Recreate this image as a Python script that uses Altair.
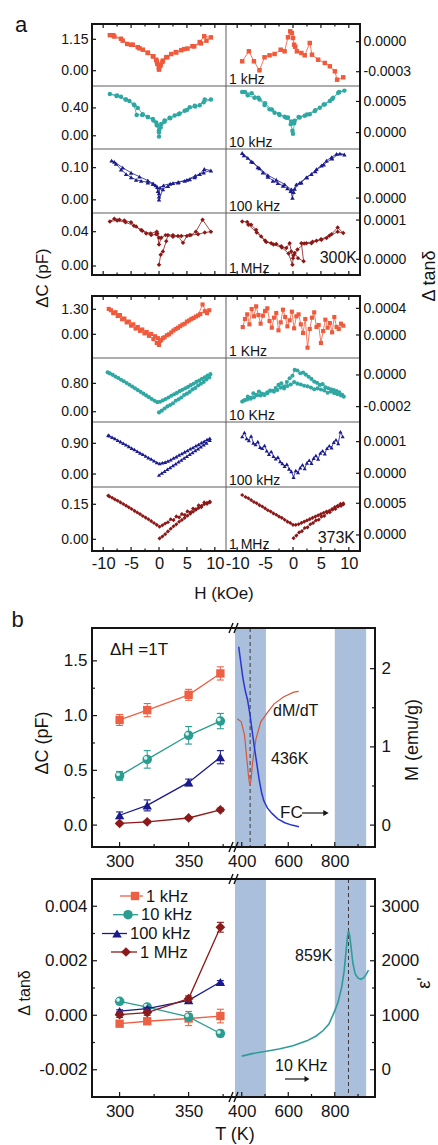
import altair as alt
import pandas as pd

# ---------------------------------------------------------------------------
# (a) field sweeps: change of capacitance (pF) and of tan(delta) vs H (kOe)
# ---------------------------------------------------------------------------
# 300 K ---------------------------------------------------------------------
h300_1k_c = [0, 0.3, 0.7, 1.3, 2.2, 3.1, 4.0, 5.1, 6.3, 7.3, 8.1, 9.3, 8.5, 7.5, 6.0, 4.5, 3.0, 1.5, 0.6, 0.2,
             0, -0.3, -0.5, -1.1, -2.0, -2.9, -3.8, -4.7, -5.7, -6.8, -8.2, -8.8, -8.0, -6.5, -5.0, -3.5, -2.0, -1.0, -0.4, 0]
dc300_1k = [0.04, 0.22, 0.37, 0.49, 0.61, 0.67, 0.75, 0.81, 0.89, 1.05, 1.26, 1.22, 1.10, 1.00, 0.90, 0.79, 0.68, 0.50, 0.32, 0.18,
            0.10, 0.25, 0.40, 0.53, 0.65, 0.77, 0.86, 0.95, 0.98, 1.17, 1.30, 1.30, 1.25, 1.10, 0.95, 0.82, 0.66, 0.52, 0.35, 0.12]
h300_1k_t = [-9.1, -7.9, -7.0, -6.0, -5.1, -4.2, -3.3, -2.2, -1.5, -0.9, -0.5, -0.2, 0, 0.2, 0.4, 0.7, 1.5, 2.1, 3.0, 3.4,
             4.5, 5.7, 6.6, 7.5, 7.9, 9.0]
tan300_1k = [-1.96, -0.96, -1.96, -2.86, -1.56, -1.36, -1.23, -0.80, -0.96, 0.44, 1.04, 0.87, 0.37, -0.30, -0.50, -0.96, -1.13, -1.36, -0.13, -1.30,
             -1.80, -2.13, -2.46, -2.96, -3.80, -3.56]  # x 1e-4

h300_10k_c = [0, 0.4, 1.0, 1.9, 2.8, 3.7, 4.6, 5.5, 6.4, 7.3, 8.2, 9.3, 8.0, 6.5, 5.0, 3.5, 2.0, 1.0, 0.3, 0,
              -0.3, -0.5, -1.1, -2.0, -2.9, -3.8, -4.4, -5.3, -5.9, -6.8, -7.6, -8.8, -7.5, -6.0, -4.5, -4.0, -3.0, -2.0, -1.0, -0.4, 0]
dc300_10k = [-0.01, 0.17, 0.22, 0.26, 0.29, 0.32, 0.36, 0.41, 0.43, 0.44, 0.52, 0.52, 0.48, 0.42, 0.37, 0.31, 0.25, 0.20, 0.12, 0.05,
             0.15, 0.19, 0.24, 0.27, 0.31, 0.40, 0.44, 0.50, 0.52, 0.56, 0.57, 0.60, 0.58, 0.52, 0.45, 0.30, 0.30, 0.27, 0.22, 0.15, 0.08]
h300_10k_t = [-9.1, -8.1, -6.9, -6.0, -5.1, -4.2, -3.3, -2.4, -1.5, -0.9, -0.4, -0.1, 0, 0.3, 1.2, 2.1, 3.0, 3.9, 4.8, 5.7,
              6.6, 7.2, 8.1, 9.2, 8.3, 7.0, 5.5, 4.0, 2.5, 1.0, 0.2, -0.3, -1.2, -2.5, -3.8, -5.0, -6.2, -7.4, -8.6]
tan300_10k = [6.53, 6.00, 5.58, 5.30, 4.42, 3.73, 3.20, 2.84, 2.53, 2.42, 1.36, 0.30, -0.20, 1.90, 2.42, 2.70, 2.94, 3.48, 4.00, 4.53,
              5.06, 5.58, 6.38, 6.74, 6.50, 5.40, 4.50, 3.60, 2.90, 2.50, 1.50, 1.80, 2.40, 3.00, 3.70, 4.70, 5.60, 6.30, 6.50]  # x 1e-4

h300_100k_c = [0, 0.7, 1.6, 2.5, 3.4, 4.6, 5.5, 6.4, 7.3, 8.1, 9.3, 8.0, 6.5, 5.0, 3.5, 2.0, 0.8, 0.2, 0, -0.2,
               -0.6, -1.1, -2.0, -3.2, -4.1, -5.0, -5.9, -6.8, -7.7, -8.5, -8.0, -6.5, -5.0, -3.5, -2.0, -1.0, -0.3, 0]
dc300_100k = [0.001, 0.033, 0.043, 0.052, 0.054, 0.059, 0.064, 0.070, 0.080, 0.096, 0.091, 0.085, 0.075, 0.062, 0.055, 0.050, 0.045, 0.038, 0.020, 0.027,
              0.045, 0.050, 0.054, 0.059, 0.062, 0.070, 0.080, 0.094, 0.112, 0.122, 0.118, 0.100, 0.084, 0.072, 0.060, 0.050, 0.040, 0.010]
h300_100k_t = [-9.1, -8.1, -7.2, -6.3, -5.4, -4.5, -3.6, -2.7, -1.8, -1.0, -0.4, -0.1, 0.1, 0.6, 1.5, 2.4, 3.3, 4.2, 5.1, 6.0,
               6.9, 7.8, 9.2, 8.4, 7.0, 5.5, 4.0, 2.5, 1.2, 0.3, -0.3, -1.5, -3.0, -4.5, -6.0, -7.5, -8.8]
tan300_100k = [14.8, 13.2, 11.8, 10.1, 8.4, 7.0, 5.7, 4.9, 4.0, 3.2, 2.3, 0.1, 2.0, 4.5, 5.1, 6.8, 7.9, 9.5, 10.7, 12.3,
               13.4, 14.5, 14.3, 14.6, 13.0, 11.0, 8.8, 6.8, 5.0, 3.0, 2.8, 4.5, 6.0, 7.5, 9.8, 12.0, 14.0]  # x 1e-5

h300_1M_c = [0, 0.3, 0.7, 1.3, 1.6, 2.5, 3.4, 4.3, 5.0, 5.7, 6.6, 7.8, 9.3, 8.2, 7.0, 5.5, 4.0, 2.5, 1.2, 0.4,
             0, -0.3, -0.5, -1.4, -2.3, -3.2, -4.1, -5.0, -6.2, -7.1, -8.0, -8.8, -7.5, -6.0, -4.5, -3.0, -1.5, -0.4, 0]
dc300_1M = [0.0015, 0.013, 0.017, 0.029, 0.036, 0.036, 0.035, 0.027, 0.035, 0.036, 0.040, 0.054, 0.040, 0.039, 0.037, 0.036, 0.035, 0.034, 0.036, 0.033,
            0.025, 0.038, 0.037, 0.036, 0.038, 0.042, 0.046, 0.051, 0.053, 0.054, 0.055, 0.052, 0.053, 0.051, 0.047, 0.041, 0.038, 0.040, 0.033]
h300_1M_t = [-9.1, -8.2, -7.5, -6.6, -5.7, -4.8, -3.9, -3.0, -2.1, -1.2, -0.6, -0.3, 0, 0.3, 0.9, 1.9, 1.5, 2.4, 3.3, 4.2,
             5.1, 6.0, 6.9, 8.0, 9.0, 8.0, 6.5, 5.0, 3.5, 2.0, 0.8, 0.1, -0.1, -0.8, -2.0, -3.5, -5.0, -6.5, -8.0]
tan300_1M = [9.65, 9.5, 8.8, 7.5, 5.8, 4.4, 4.1, 3.9, 3.3, 2.9, 4.1, 2.0, 0.3, 1.6, 0.3, -0.5, 4.1, 4.1, 4.1, 4.7,
             5.0, 5.4, 6.4, 8.1, 6.7, 7.0, 6.0, 5.1, 4.5, 4.0, 2.5, 1.0, -1.4, 1.5, 3.0, 3.8, 4.8, 6.8, 8.8]  # x 1e-5

# 373 K ---------------------------------------------------------------------
h373_1k_c = [-9.0, -8.2, -7.4, -6.6, -5.8, -5.0, -4.2, -3.4, -2.6, -1.8, -1.0, -0.4, 0.0, 0.4, 1.0, 1.8, 2.6, 3.4, 4.2, 5.0,
             5.8, 6.6, 7.4, 8.2, 9.0, 8.6, 7.8, 7.0, 6.2, 5.4, 4.6, 3.8, 3.0, 2.2, 1.4, 0.7, 0.2, -0.2, -0.7, -1.4,
             -2.2, -3.0, -3.8, -4.6, -5.4, -6.2, -7.0, -7.8, -8.6]
dc373_1k = [1.32, 1.10, 0.95, 0.78, 0.62, 0.45, 0.30, 0.18, 0.05, -0.08, -0.25, -0.45, -0.55, -0.30, -0.15, 0.00, 0.20, 0.34, 0.50, 0.66,
            0.80, 0.92, 1.05, 1.20, 1.25, 1.10, 1.55, 0.98, 0.85, 0.72, 0.55, 0.42, 0.28, 0.10, -0.05, -0.20, -0.35, -0.20, -0.10, 0.02,
            0.12, 0.25, 0.38, 0.52, 0.66, 0.82, 1.00, 1.15, 1.25]
h373_1k_t = [-9.0, -8.6, -8.2, -7.8, -7.4, -7.0, -6.6, -6.2, -5.8, -5.4, -5.0, -4.6, -4.2, -3.8, -3.4, -3.0, -2.6, -2.2, -1.8, -1.4,
             -1.0, -0.6, -0.2, 0.2, 0.6, 1.0, 1.4, 1.8, 2.2, 2.6, 3.0, 3.4, 3.8, 4.2, 4.6, 5.0, 5.4, 5.8, 6.2, 6.6,
             7.0, 7.4, 7.8, 8.2, 8.6, 9.0]
tan373_1k = [1.2, 2.4, 3.1, 1.6, 3.9, 2.8, 4.3, 3.0, 1.7, 2.9, 3.6, 4.0, 2.1, 1.1, 2.6, 3.3, 0.7, 1.9, 3.8, 2.7,
             1.3, 2.2, 3.5, 1.0, 2.8, 3.1, 1.6, 0.3, 2.4, -1.9, 0.9, 2.6, 3.4, 1.2, 1.5, -1.2, 0.6, 2.3, 1.1, 1.8,
             0.4, 2.7, 1.2, 0.9, 1.7, 1.4]  # x 1e-4

h373_10k_c = [0.0, 0.5, 1.0, 1.5, 2.0, 2.5, 3.0, 3.5, 4.0, 4.5, 5.0, 5.5, 6.0, 6.5, 7.0, 7.5, 8.0, 8.5, 9.0,
              9.2, 8.7, 8.2, 7.7, 7.2, 6.7, 6.2, 5.7, 5.2, 4.7, 4.2, 3.7, 3.2, 2.7, 2.2, 1.7, 1.2, 0.7, 0.2, -0.3,
              -0.8, -1.3, -1.8, -2.3, -2.8, -3.3, -3.8, -4.3, -4.8, -5.3, -5.8, -6.3, -6.8, -7.3, -7.8, -8.3, -8.8, -9.2]
dc373_10k = [-0.02, 0.03, 0.09, 0.15, 0.19, 0.24, 0.31, 0.35, 0.40, 0.47, 0.51, 0.56, 0.63, 0.67, 0.74, 0.79, 0.84, 0.91, 0.97,
             1.06, 1.02, 0.97, 0.93, 0.88, 0.84, 0.79, 0.75, 0.70, 0.66, 0.62, 0.58, 0.53, 0.49, 0.45, 0.40, 0.36, 0.32, 0.28, 0.27,
             0.31, 0.36, 0.41, 0.46, 0.51, 0.56, 0.61, 0.66, 0.71, 0.76, 0.81, 0.86, 0.90, 0.95, 0.99, 1.04, 1.08, 1.11]
h373_10k_t = [-9.1, -8.6, -8.1, -7.6, -7.1, -6.6, -6.1, -5.6, -5.1, -4.6, -4.1, -3.6, -3.1, -2.6, -2.1, -1.6, -1.1, -0.6, -0.1, 0.3,
              0.8, 1.3, 1.8, 2.3, 2.8, 3.3, 3.8, 4.3, 4.8, 5.3, 5.8, 6.3, 6.8, 7.3, 7.8, 8.3, 8.8, 9.1,
              8.6, 8.0, 7.4, 6.8, 6.2, 5.6, 5.0, 4.4, 3.8, 3.2, 2.6, 2.0, 1.4, 0.8, 0.2, -0.4, -1.0, -1.6, -2.2, -2.8,
              -3.4, -4.0, -4.6, -5.2, -5.8, -6.4, -7.0, -7.6, -8.2, -8.8]
tan373_10k = [-1.68, -1.58, -1.37, -1.45, -1.16, -1.25, -1.05, -1.18, -1.26, -1.10, -0.98, -1.00, -0.82, -0.63, -0.53, -0.74, -0.45, -0.21, -0.05, 0.32,
              0.28, 0.11, 0.15, 0.02, -0.11, -0.25, -0.42, -0.50, -0.63, -0.58, -0.78, -0.84, -0.90, -0.95, -1.02, -1.10, -1.25, -1.37,
              -1.30, -1.22, -1.15, -1.05, -1.12, -0.98, -0.92, -0.85, -0.90, -0.80, -0.72, -0.68, -0.60, -0.55, -0.45, -0.60, -0.70, -0.85, -0.80, -0.95,
              -1.05, -1.00, -1.15, -1.22, -1.30, -1.28, -1.42, -1.50, -1.55, -1.62]  # x 1e-4

h373_100k_c = [0.0, 0.5, 1.0, 1.5, 2.0, 2.5, 3.0, 3.5, 4.0, 4.5, 5.0, 5.5, 6.0, 6.5, 7.0, 7.5, 8.0, 8.5, 9.1,
               9.1, 8.6, 8.1, 7.6, 7.1, 6.6, 6.1, 5.6, 5.1, 4.6, 4.1, 3.6, 3.1, 2.6, 2.1, 1.6, 1.1, 0.6, 0.1, -0.4,
               -0.9, -1.4, -1.9, -2.4, -2.9, -3.4, -3.9, -4.4, -4.9, -5.4, -5.9, -6.4, -6.9, -7.4, -7.9, -8.4, -8.9, -9.1]
dc373_100k = [-0.03, 0.03, 0.08, 0.14, 0.19, 0.25, 0.30, 0.36, 0.41, 0.47, 0.52, 0.58, 0.63, 0.69, 0.74, 0.80, 0.86, 0.91, 0.99,
              1.05, 1.01, 0.96, 0.92, 0.87, 0.83, 0.78, 0.74, 0.69, 0.65, 0.60, 0.56, 0.51, 0.47, 0.42, 0.38, 0.35, 0.33, 0.31, 0.34,
              0.39, 0.44, 0.48, 0.53, 0.58, 0.62, 0.67, 0.72, 0.76, 0.81, 0.86, 0.90, 0.95, 0.99, 1.04, 1.08, 1.12, 1.14]
h373_100k_t = [-9.1, -8.7, -8.3, -7.9, -7.5, -7.1, -6.7, -6.3, -5.9, -5.5, -5.1, -4.7, -4.3, -3.9, -3.5, -3.1, -2.7, -2.3, -1.9, -1.5,
               -1.1, -0.7, -0.3, 0.1, 0.5, 0.9, 1.3, 1.7, 2.1, 2.5, 2.9, 3.3, 3.7, 4.1, 4.5, 4.9, 5.3, 5.7, 6.1, 6.5,
               6.9, 7.3, 7.7, 8.1, 8.5, 8.9]
tan373_100k = [11.6, 12.9, 11.0, 10.4, 11.8, 9.6, 9.1, 10.0, 8.2, 7.9, 8.8, 7.1, 6.0, 6.9, 5.4, 4.6, 5.1, 3.7, 3.1, 2.2,
               2.9, 1.4, 0.6, -1.2, 0.9, 0.3, 1.8, 2.7, 1.5, 3.3, 4.1, 3.2, 4.8, 5.6, 4.5, 6.4, 7.1, 6.2, 7.9, 8.7,
               8.1, 9.8, 10.6, 9.4, 13.1, 11.6]  # x 1e-5

h373_1M_c = [0.1, 0.6, 1.1, 1.6, 2.1, 2.6, 3.1, 3.6, 4.1, 4.6, 5.1, 5.6, 6.1, 6.6, 7.1, 7.6, 8.1, 8.6, 9.1,
             9.1, 8.6, 8.1, 7.6, 7.1, 6.6, 6.1, 5.6, 5.1, 4.6, 4.1, 3.6, 3.1, 2.6, 2.1, 1.6, 1.1, 0.6, 0.1, -0.4,
             -0.9, -1.4, -1.9, -2.4, -2.9, -3.4, -3.9, -4.4, -4.9, -5.4, -5.9, -6.4, -6.9, -7.4, -7.9, -8.4, -8.9, -9.1]
dc373_1M = [0.004, 0.012, 0.022, 0.034, 0.045, 0.056, 0.064, 0.075, 0.083, 0.092, 0.101, 0.110, 0.118, 0.127, 0.134, 0.143, 0.150, 0.156, 0.158,
            0.162, 0.152, 0.158, 0.138, 0.146, 0.128, 0.132, 0.116, 0.120, 0.104, 0.108, 0.094, 0.098, 0.082, 0.086, 0.073, 0.068, 0.060, 0.054, 0.062,
            0.070, 0.078, 0.086, 0.093, 0.100, 0.108, 0.115, 0.122, 0.130, 0.137, 0.144, 0.151, 0.158, 0.165, 0.171, 0.178, 0.184, 0.187]
h373_1M_t = [0.1, 0.6, 1.1, 1.6, 2.1, 2.6, 3.1, 3.6, 4.1, 4.6, 5.1, 5.6, 6.1, 6.6, 7.1, 7.6, 8.1, 8.6, 9.0,
             9.0, 8.5, 8.0, 7.5, 7.0, 6.5, 6.0, 5.5, 5.0, 4.5, 4.0, 3.5, 3.0, 2.5, 2.0, 1.5, 1.0, 0.5, 0.0, -0.5,
             -1.0, -1.5, -2.0, -2.5, -3.0, -3.5, -4.0, -4.5, -5.0, -5.5, -6.0, -6.5, -7.0, -7.5, -8.0, -8.5, -9.1]
tan373_1M = [-0.5, -0.1, 0.4, 0.6, 1.1, 1.2, 1.7, 1.9, 2.3, 2.4, 2.9, 3.0, 3.5, 3.6, 4.0, 4.1, 4.5, 4.6, 4.8,
             5.0, 4.9, 4.6, 4.4, 4.1, 3.8, 3.7, 3.5, 3.3, 3.1, 2.9, 2.7, 2.5, 2.3, 2.1, 1.9, 1.7, 1.6, 1.6, 1.9,
             2.1, 2.4, 2.7, 2.9, 3.2, 3.4, 3.7, 3.9, 4.2, 4.5, 4.7, 5.0, 5.2, 5.5, 5.8, 6.0, 6.3]  # x 1e-4

# ---------------------------------------------------------------------------
# (b) temperature dependence, Delta H = 1 T
# ---------------------------------------------------------------------------
T_K = [300, 320, 350, 373]
dC_1k = [0.96, 1.05, 1.19, 1.385]
dC_1k_err = [0.05, 0.06, 0.05, 0.06]
dC_10k = [0.45, 0.60, 0.82, 0.95]
dC_10k_err = [0.04, 0.08, 0.08, 0.07]
dC_100k = [0.09, 0.18, 0.39, 0.62]
dC_100k_err = [0.03, 0.05, 0.03, 0.06]
dC_1M = [0.015, 0.03, 0.065, 0.14]
dC_1M_err = [0.01, 0.01, 0.01, 0.015]

dtan_1k = [-0.00031, -0.00022, -0.00012, -0.00003]
dtan_1k_err = [0.00008, 0.00008, 0.00026, 0.00025]
dtan_10k = [0.00051, 0.00030, -0.00006, -0.00067]
dtan_10k_err = [0.0001, 0.0001, 0.0001, 0.00012]
dtan_100k = [0.00015, 0.00024, 0.00055, 0.00122]
dtan_100k_err = [0.00005, 0.00005, 0.00005, 0.00005]
dtan_1M = [0.00002, 0.0001, 0.00061, 0.00323]
dtan_1M_err = [0.0001, 0.0001, 0.0001, 0.00018]

# field-cooled magnetisation (emu/g) and its derivative (arb. units)
T_M = [387, 395, 405, 415, 425, 435, 445, 455, 465, 475, 485, 495, 510, 530, 555, 585, 615, 646]
M_FC = [2.28, 2.10, 1.88, 1.72, 1.60, 1.42, 1.20, 0.98, 0.78, 0.58, 0.42, 0.31, 0.22, 0.15, 0.08, 0.03, 0.0, -0.02]
T_dM = [381, 398, 412, 423, 428, 432, 436, 440, 443, 447, 461, 482, 511, 539, 581, 624, 645]
dMdT = [1.36, 1.32, 1.15, 0.81, 0.66, 0.56, 0.51, 0.58, 0.68, 0.81, 1.10, 1.32, 1.44, 1.55, 1.64, 1.70, 1.71]
T_C_MAG = 436

# permittivity at 10 kHz
T_eps = [400, 450, 505, 560, 620, 680, 720, 750, 775, 800, 815, 830, 840, 848, 855, 859, 864, 870, 878, 888, 900, 912, 925, 935, 945]
eps_r = [250, 300, 340, 380, 440, 530, 620, 720, 840, 1080, 1250, 1520, 1800, 2150, 2450, 2550, 2470, 2250, 1950, 1760, 1680, 1660, 1690, 1750, 1830]
T_C_FE = 859

BAND_LO = [371, 800]
BAND_HI = [504, 935]

# ---------------------------------------------------------------------------
# styling and layout
# ---------------------------------------------------------------------------
W, HT = 438, 1145
FONT = "Liberation Sans"
INK = "#151515"
GRID = "#5c5c5c"
BAND = "#a9bfdc"
ONE = pd.DataFrame({"z": [0]})

A_COL = {"1k": "#ee5a3b", "10k": "#2fa7a2", "100k": "#1b1b90", "1M": "#8c1717"}
B_COL = {"1k": "#ee6044", "10k": "#2a9c90", "100k": "#1a1a8e", "1M": "#8b1a1a"}
SHAPE = {"1k": "square", "10k": "circle", "100k": "triangle-up", "1M": "diamond"}
B_SIZE = {"1k": 70, "10k": 90, "100k": 90, "1M": 95}

AX_L, AX_R = (92, 226), (226, 360)
ROWS_300 = [(24, 86), (86, 149), (149, 213), (213, 275)]
ROWS_373 = [(296, 358), (358, 422), (422, 487), (487, 551)]
A_XMAJOR = [-10, -5, 0, 5, 10]
A_XMINOR = [-7.5, -2.5, 2.5, 7.5]

BX_L, BX_R = (92, 235), (235, 375)
B_TOP, B_BOT = (628, 847), (879, 1097)
TL_DOM, TR_DOM = (280, 383.6), (371, 973)

layers = []


def add(c):
    layers.append(c)


def sc(domain, rng):
    return alt.Scale(domain=list(domain), range=list(rng), nice=False, zero=False)


def lab_expr(f):
    return "replace(format(datum.value, '%s'), '\u2212', '-')" % f


def rule_px(x1, y1, x2, y2, w=1.0, color=INK, dash=None, cap="butt"):
    kw = dict(color=color, strokeWidth=w, strokeCap=cap)
    if dash:
        kw["strokeDash"] = dash
    add(alt.Chart(ONE).mark_rule(**kw).encode(
        x=alt.value(x1), y=alt.value(y1), x2=alt.value(x2), y2=alt.value(y2)))


def text_px(s, x, y, size, align="left", baseline="middle", angle=None):
    kw = dict(text=s, font=FONT, fontSize=size, align=align, baseline=baseline, color=INK)
    if angle is not None:
        kw["angle"] = angle
    add(alt.Chart(ONE).mark_text(**kw).encode(x=alt.value(x), y=alt.value(y)))


def box(x1, y1, x2, y2, w=2.0):
    rule_px(x1, y1, x2, y1, w, cap="square")
    rule_px(x1, y2, x2, y2, w, cap="square")
    rule_px(x1, y1, x1, y2, w, cap="square")
    rule_px(x2, y1, x2, y2, w, cap="square")


def tick_rules(vals, scale, channel, at, length, axis=None, w=1.2):
    df = pd.DataFrame({"t": vals})
    m = alt.Chart(df).mark_rule(color=INK, strokeWidth=w)
    if channel == "y":
        add(m.encode(y=alt.Y("t:Q", scale=scale, axis=axis), x=alt.value(at), x2=alt.value(at + length)))
    else:
        add(m.encode(x=alt.X("t:Q", scale=scale, axis=axis), y=alt.value(at), y2=alt.value(at + length)))


def y_axis(side, x_edge, ticks, fmt, size, pad):
    off = -x_edge if side == "left" else x_edge - W
    return alt.Axis(orient=side, offset=off, values=ticks, labelExpr=lab_expr(fmt), title=None,
                    grid=False, domain=False, ticks=False, labelFont=FONT, labelFontSize=size,
                    labelColor=INK, labelPadding=pad)


def x_axis(y_edge, ticks, size, pad):
    return alt.Axis(orient="bottom", offset=y_edge - HT, values=ticks, labelExpr=lab_expr("d"), title=None,
                    grid=False, domain=False, ticks=False, labelFont=FONT, labelFontSize=size,
                    labelColor=INK, labelPadding=pad, labelFlush=False, labelOverlap=False)


# ---------------------------------------------------------------------------
# (a) cells
# ---------------------------------------------------------------------------
def a_cell(H, V, xr, yr, dom, key, side, ticks, fmt, size):
    xs = sc((-12, 12), xr)
    ys = sc(dom, (yr[1], yr[0]))
    df = pd.DataFrame({"H": H, "v": V, "k": list(range(len(H)))})
    col = A_COL[key]
    add(alt.Chart(df).mark_line(color=col, strokeWidth=0.8).encode(
        x=alt.X("H:Q", scale=xs, axis=None), y=alt.Y("v:Q", scale=ys, axis=None), order="k:Q"))
    add(alt.Chart(df).mark_point(shape=SHAPE[key], filled=True, size=size, color=col, opacity=1).encode(
        x=alt.X("H:Q", scale=xs, axis=None), y=alt.Y("v:Q", scale=ys, axis=None)))
    if side == "left":
        tick_rules(ticks, ys, "y", xr[0], 4, y_axis("left", xr[0], ticks, fmt, 14, 4))
    else:
        tick_rules(ticks, ys, "y", xr[1], -4, y_axis("right", xr[1], ticks, fmt, 14, 3))


def a_group(rows, cells, freq_labels, temp_label, temp_pos, x_labels):
    top, bot = rows[0][0], rows[-1][1]
    for (yr, c, lab) in zip(rows, cells, freq_labels):
        key, hc, vc, cdom, cticks, ht, vt, scale_t, tdom, tticks = c
        a_cell(hc, vc, AX_L, yr, cdom, key, "left", cticks, ".2f", 20 if rows is ROWS_300 else 17)
        a_cell(ht, [v * scale_t for v in vt], AX_R, yr, tdom, key, "right", tticks, ".4f",
               20 if rows is ROWS_300 else 17)
        text_px(lab, AX_R[0] + 3, yr[1] - 2.5, 14, baseline="alphabetic")
    # thin inner dividers
    rule_px(AX_L[1], top, AX_L[1], bot, 1, GRID)
    for (t, b) in rows[:-1]:
        rule_px(AX_L[0], b, AX_R[1], b, 1, GRID)
    box(AX_L[0], top, AX_R[1], bot, 2)
    # small ticks on the upper and lower frame
    for xr in (AX_L, AX_R):
        xs = sc((-12, 12), xr)
        tick_rules(A_XMAJOR, xs, "x", top, 4)
        tick_rules(A_XMINOR, xs, "x", top, 2.5)
        tick_rules(A_XMAJOR, xs, "x", bot, -4, x_axis(bot, A_XMAJOR, 16.5, 4) if x_labels else None)
        tick_rules(A_XMINOR, xs, "x", bot, -2.5)
    text_px(temp_label, temp_pos[0], temp_pos[1], 16, align="right", baseline="alphabetic")


a_group(ROWS_300, [
    ("1k", h300_1k_c, dc300_1k, (-0.56, 1.71), [0, 1.15], h300_1k_t, tan300_1k, 1e-4, (-0.000443, 0.000177), [-0.0003, 0.0]),
    ("10k", h300_10k_c, dc300_10k, (-0.19, 0.715), [0, 0.40], h300_10k_t, tan300_10k, 1e-4, (-0.000263, 0.000748), [0.0, 0.0005]),
    ("100k", h300_100k_c, dc300_100k, (-0.041, 0.158), [0, 0.10], h300_100k_t, tan300_100k, 1e-5, (-0.000049, 0.000161), [0.0, 0.0001]),
    ("1M", h300_1M_c, dc300_1M, (-0.0105, 0.0618), [0, 0.04], h300_1M_t, tan300_1M, 1e-5, (-0.00004, 0.000118), [0.0, 0.0001]),
], ["1 kHz", "10 kHz", "100 kHz", "1 MHz"], "300K", (357, 263), False)

a_group(ROWS_373, [
    ("1k", h373_1k_c, dc373_1k, (-1.23, 1.99), [0, 1.30], h373_1k_t, tan373_1k, 1e-4, (-0.000345, 0.000585), [0.0, 0.0004]),
    ("10k", h373_10k_c, dc373_10k, (-0.29, 1.515), [0, 0.80], h373_10k_t, tan373_10k, 1e-4, (-0.000297, 0.000107), [-0.0002, 0.0]),
    ("100k", h373_100k_c, dc373_100k, (-0.38, 1.525), [0, 0.90], h373_100k_t, tan373_100k, 1e-5, (-0.0000433, 0.000162), [0.0, 0.0001]),
    ("1M", h373_1M_c, dc373_1M, (-0.05, 0.224), [0, 0.15], h373_1M_t, tan373_1M, 1e-4, (-0.000253, 0.000757), [0.0, 0.0005]),
], ["1 KHz", "10 KHz", "100 kHz", "1 MHz"], "373K", (355, 542.5), True)

text_px("a", 21, 25, 22, align="center")
text_px("\u0394C (pF)", 43, 278, 17, align="center", angle=270)
text_px("\u0394 tan\u03b4", 430, 276, 18, align="center", angle=270)
text_px("H (kOe)", 224, 594, 17, align="center")

# ---------------------------------------------------------------------------
# (b) temperature panels
# ---------------------------------------------------------------------------
for yr in (B_TOP, B_BOT):
    xsr = sc(TR_DOM, BX_R)
    add(alt.Chart(pd.DataFrame({"a": BAND_LO, "b": BAND_HI})).mark_rect(color=BAND, opacity=1).encode(
        x=alt.X("a:Q", scale=xsr, axis=None), x2=alt.X2("b"), y=alt.value(yr[0]), y2=alt.value(yr[1])))


def b_series(yr, ydom, vals, errs, key):
    xs = sc(TL_DOM, BX_L)
    ys = sc(ydom, (yr[1], yr[0]))
    col = B_COL[key]
    df = pd.DataFrame({"T": T_K, "v": vals,
                       "lo": [v - e for v, e in zip(vals, errs)],
                       "hi": [v + e for v, e in zip(vals, errs)]})
    X = alt.X("T:Q", scale=xs, axis=None)
    add(alt.Chart(df).mark_rule(color=col, strokeWidth=1).encode(x=X, y=alt.Y("lo:Q", scale=ys, axis=None), y2="hi:Q"))
    for f in ("lo", "hi"):
        add(alt.Chart(df).mark_tick(orient="horizontal", size=7, thickness=1.1, color=col, opacity=1).encode(
            x=X, y=alt.Y(f + ":Q", scale=ys, axis=None)))
    add(alt.Chart(df).mark_line(color=col, strokeWidth=1.3).encode(x=X, y=alt.Y("v:Q", scale=ys, axis=None)))
    add(alt.Chart(df).mark_point(shape=SHAPE[key], filled=True, size=B_SIZE[key], color=col, opacity=1).encode(
        x=X, y=alt.Y("v:Q", scale=ys, axis=None)))
    if key == "10k":
        add(alt.Chart(df).mark_point(shape="circle", filled=True, size=14, color="#d5f1ee", opacity=1,
                                     xOffset=-1.5, yOffset=-1.5).encode(x=X, y=alt.Y("v:Q", scale=ys, axis=None)))


C_DOM = (-0.2, 1.8)
TAN_DOM = (-0.003, 0.005)
for vals, errs, key in ((dC_1k, dC_1k_err, "1k"), (dC_10k, dC_10k_err, "10k"),
                        (dC_100k, dC_100k_err, "100k"), (dC_1M, dC_1M_err, "1M")):
    b_series(B_TOP, C_DOM, vals, errs, key)
for vals, errs, key in ((dtan_1k, dtan_1k_err, "1k"), (dtan_10k, dtan_10k_err, "10k"),
                        (dtan_100k, dtan_100k_err, "100k"), (dtan_1M, dtan_1M_err, "1M")):
    b_series(B_BOT, TAN_DOM, vals, errs, key)

# magnetisation side (top right)
xsr = sc(TR_DOM, BX_R)
ysM = sc((-0.28, 2.52), (B_TOP[1], B_TOP[0]))
add(alt.Chart(pd.DataFrame({"t": [T_C_MAG]})).mark_rule(color="#3a3a3a", strokeWidth=1, strokeDash=[4, 3]).encode(
    x=alt.X("t:Q", scale=xsr, axis=None), y=alt.value(B_TOP[0]), y2=alt.value(B_TOP[1])))
add(alt.Chart(pd.DataFrame({"T": T_dM, "v": dMdT})).mark_line(color="#d4583e", strokeWidth=1.2).encode(
    x=alt.X("T:Q", scale=xsr, axis=None), y=alt.Y("v:Q", scale=ysM, axis=None)))
add(alt.Chart(pd.DataFrame({"T": T_M, "v": M_FC})).mark_line(color="#2a36d2", strokeWidth=1.5).encode(
    x=alt.X("T:Q", scale=xsr, axis=None), y=alt.Y("v:Q", scale=ysM, axis=None)))

# permittivity side (bottom right)
ysE = sc((-500, 3500), (B_BOT[1], B_BOT[0]))
add(alt.Chart(pd.DataFrame({"t": [T_C_FE]})).mark_rule(color="#3a3a3a", strokeWidth=1, strokeDash=[4, 3]).encode(
    x=alt.X("t:Q", scale=xsr, axis=None), y=alt.value(B_BOT[0]), y2=alt.value(B_BOT[1])))
add(alt.Chart(pd.DataFrame({"T": T_eps, "v": eps_r})).mark_line(color="#2e9c98", strokeWidth=1.6).encode(
    x=alt.X("T:Q", scale=xsr, axis=None), y=alt.Y("v:Q", scale=ysE, axis=None)))

# frames, break marks, ticks and tick labels
for yr in (B_TOP, B_BOT):
    box(BX_L[0], yr[0], BX_R[1], yr[1], 2)
    for y in yr:
        rule_px(BX_R[0] - 6, y + 5, BX_R[0] - 2, y - 5, 1.4)
        rule_px(BX_R[0] - 1, y + 5, BX_R[0] + 3, y - 5, 1.4)
    xsl = sc(TL_DOM, BX_L)
    tick_rules([300, 350], xsl, "x", yr[1], -5, x_axis(yr[1], [300, 350], 17, 6))
    tick_rules([325, 375], xsl, "x", yr[1], -3)
    tick_rules([400, 600, 800], xsr, "x", yr[1], -5, x_axis(yr[1], [400, 600, 800], 17, 6))
    tick_rules([500, 700, 900], xsr, "x", yr[1], -3)

ysC = sc(C_DOM, (B_TOP[1], B_TOP[0]))
tick_rules([0, 0.5, 1.0, 1.5], ysC, "y", BX_L[0], 5, y_axis("left", BX_L[0], [0, 0.5, 1.0, 1.5], ".1f", 17, 5))
tick_rules([0.25, 0.75, 1.25], ysC, "y", BX_L[0], 3)
tick_rules([0, 1, 2], ysM, "y", BX_R[1], -5, y_axis("right", BX_R[1], [0, 1, 2], "d", 17, 6))
tick_rules([0.5, 1.5], ysM, "y", BX_R[1], -3)

ysT = sc(TAN_DOM, (B_BOT[1], B_BOT[0]))
tick_rules([-0.002, 0, 0.002, 0.004], ysT, "y", BX_L[0], 5,
           y_axis("left", BX_L[0], [-0.002, 0, 0.002, 0.004], ".3f", 17, 5))
tick_rules([-0.001, 0.001, 0.003], ysT, "y", BX_L[0], 3)
tick_rules([0, 1000, 2000, 3000], ysE, "y", BX_R[1], -5, y_axis("right", BX_R[1], [0, 1000, 2000, 3000], "d", 17, 6))
tick_rules([500, 1500, 2500], ysE, "y", BX_R[1], -3)

# legend of the frequency series (bottom left)
LEGEND = [("1 kHz", "1k"), ("10 kHz", "10k"), ("100 kHz", "100k"), ("1 MHz", "1M")]
LEG_SYM_X = [135, 128, 117, 126]
LEG_TXT_X = [146, 141, 130, 140]
LEG_Y = [896, 914.7, 933.5, 952]
for (lab, key), sx, tx, ly in zip(LEGEND, LEG_SYM_X, LEG_TXT_X, LEG_Y):
    rule_px(sx - 15, ly, tx - 3, ly, 1.3, B_COL[key])
    add(alt.Chart(ONE).mark_point(shape=SHAPE[key], filled=True, size=B_SIZE[key], color=B_COL[key], opacity=1).encode(
        x=alt.value(sx), y=alt.value(ly)))
    text_px(lab, tx, ly + 0.5, 16.5)

# annotations of panel (b)
text_px("b", 17.5, 620, 22, align="center")
text_px("\u0394H =1T", 110, 650, 17)
text_px("dM/dT", 273, 711, 16)
text_px("436K", 271, 759, 16)
text_px("FC", 280, 813, 17)
rule_px(302, 813, 324, 813, 1.2)
add(alt.Chart(ONE).mark_point(shape="triangle-right", filled=True, size=38, color=INK, opacity=1).encode(
    x=alt.value(326), y=alt.value(813)))
text_px("859K", 295, 956, 16)
text_px("10 KHz", 275, 1066, 16)
rule_px(285, 1079, 305, 1079, 1.2)
add(alt.Chart(ONE).mark_point(shape="triangle-right", filled=True, size=34, color=INK, opacity=1).encode(
    x=alt.value(307), y=alt.value(1079)))
text_px("\u0394C (pF)", 43, 743, 18, align="center", angle=270)
text_px("M (emu/g)", 413, 740, 18, align="center", angle=270)
text_px("\u0394 tan\u03b4", 25, 993, 16, align="center", angle=270)
text_px("\u03b5'", 425, 983, 18, align="center", angle=270)
text_px("T (K)", 235, 1135, 18, align="center")

chart = alt.layer(*layers).resolve_scale(x="independent", y="independent").properties(
    width=W, height=HT, padding=0, background="white",
    autosize=alt.AutoSizeParams(type="none"),
).configure_view(strokeWidth=0)

chart.save("out.html", embed_options={"renderer": "svg", "actions": False})
